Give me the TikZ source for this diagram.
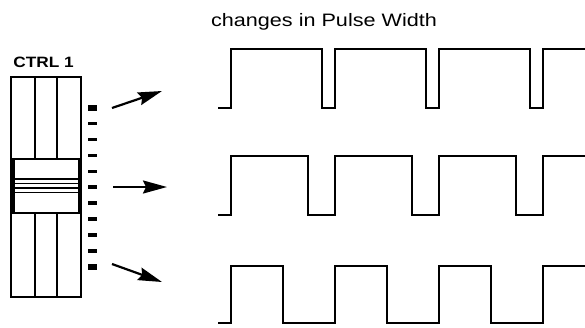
\documentclass[tikz,border=0pt]{standalone}
\usepackage{fontspec}
\setmainfont{Liberation Sans}
\usetikzlibrary{arrows.meta}
\tikzset{
  >={Stealth[length=24pt,width=13pt,inset=3pt]},
  rule/.style={line width=2.2pt},
  wave/.style={line width=2.3pt,line join=miter},
  push/.style={->,line width=2.2pt},
  lbl/.style={inner sep=0pt,anchor=base},
}
\begin{document}
\begin{tikzpicture}[x=1pt,y=-1pt]
  \useasboundingbox (0,0) rectangle (585,327);
  % labels
  \node[lbl,font=\fontsize{18}{20}\selectfont] (head) at (324,26.5) {\scalebox{1.2}[1]{changes in Pulse Width}};
  \node[lbl,font=\fontsize{15}{17}\selectfont\bfseries] (ctrl) at (43.5,67.5) {\scalebox{1.15}[1]{CTRL 1}};
  % fader
  \draw[rule] (11,77) rectangle (81,297);
  \draw[rule] (11,159) -- (81,159) (11,213) -- (81,213);
  \foreach \x in {35,57}
    \draw[rule] (\x,77) -- (\x,159) (\x,213) -- (\x,297);
  \fill (10,159) rectangle (15,213);
  \draw[rule] (79,159) -- (79,213);
  \foreach \y/\w in {179/2.6,183.5/1.4,188/2.6,192.5/1.4}
    \draw[line width=\w pt] (14,\y) -- (80,\y);
  % scale
  \foreach \i in {0,...,10} {
    \pgfmathsetmacro\h{(\i==0 || \i==10) ? 2.8 : 1.8}
    \fill (88,107.7+15.9*\i-\h) rectangle (97,107.7+15.9*\i+\h);
  }
  % arrows
  \coordinate (from1) at (112,108); \coordinate (to1) at (162,91);
  \coordinate (from2) at (113,187); \coordinate (to2) at (167,187);
  \coordinate (from3) at (112,264); \coordinate (to3) at (162,282);
  \foreach \n in {1,2,3}
    \draw[push] (from\n) -- (to\n);
  % pulse trains
  \foreach \hi/\lo/\w in {49/108/91,156/215/77,266/323/52}
    \draw[wave] (218,\lo) -- (231,\lo)
      \foreach \k in {0,1,2} {
        -- (231+104*\k,\hi) -- (231+104*\k+\w,\hi) -- (231+104*\k+\w,\lo) -- (335+104*\k,\lo)
      }
      -- (543,\hi) -- (585,\hi);
\end{tikzpicture}
\end{document}
